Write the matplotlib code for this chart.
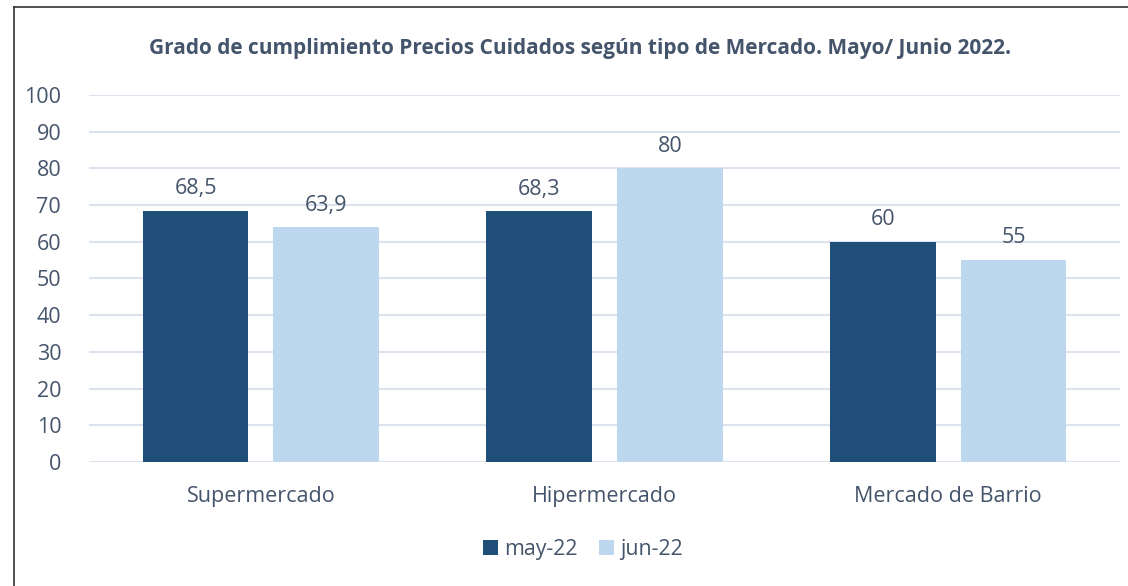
import matplotlib.pyplot as plt
import numpy as np
from matplotlib.lines import Line2D

categories = ["Supermercado", "Hipermercado", "Mercado de Barrio"]
may_22 = [68.5, 68.3, 60]
jun_22 = [63.9, 80, 55]
may_labels = ["68,5", "68,3", "60"]
jun_labels = ["63,9", "80", "55"]
series_names = ["may-22", "jun-22"]

dark = "#1F4E79"
light = "#BDD7EE"
text_color = "#44546A"

plt.rcParams["font.family"] = ["Open Sans", "DejaVu Sans"]

fig = plt.figure(figsize=(11.28, 5.86), dpi=100)
ax = fig.add_axes([0.0789, 0.2116, 0.9140, 0.6263])

x = np.arange(len(categories))
w = 0.308
off = 0.19
b1 = ax.bar(x - off, may_22, w, color=dark, label=series_names[0], zorder=3)
b2 = ax.bar(x + off, jun_22, w, color=light, label=series_names[1], zorder=3)

for bars, labels in [(b1, may_labels), (b2, jun_labels)]:
    for rect, lab in zip(bars, labels):
        ax.text(rect.get_x() + rect.get_width() / 2, rect.get_height() + 3.2, lab,
                ha="center", va="bottom", fontsize=15.5, color=text_color)

ax.set_xlim(-0.5, 2.5)
ax.set_ylim(0, 100)
ax.set_yticks(range(0, 101, 10))
ax.set_xticks(x)
ax.set_xticklabels(categories)
ax.tick_params(axis="both", length=0, labelsize=15.5, colors=text_color)
ax.tick_params(axis="y", pad=20)
ax.tick_params(axis="x", pad=17)
ax.grid(axis="y", color="#DCE3EE", linewidth=1.5, zorder=0)
for s in ax.spines.values():
    s.set_visible(False)

fig.text(0.514, 0.918, "Grado de cumplimiento Precios Cuidados según tipo de Mercado. Mayo/ Junio 2022.",
         ha="center", va="center", fontsize=15, fontweight="bold", color=text_color)

ax.legend(loc="center", ncol=2, frameon=False, fontsize=15.3, labelcolor=text_color,
          handlelength=0.7, handleheight=0.7, handletextpad=0.3, columnspacing=1.0)
leg = ax.get_legend()
leg.set_bbox_to_anchor((0.517, 0.063), transform=fig.transFigure)

# frame edges visible in the reference (left and top)
fig.add_artist(Line2D([0.0125, 0.0125], [0, 0.988], transform=fig.transFigure, color="#333333", linewidth=1.2))
fig.add_artist(Line2D([0.0125, 1.0], [0.988, 0.988], transform=fig.transFigure, color="#333333", linewidth=1.2))

fig.savefig("out.png", dpi=100)
